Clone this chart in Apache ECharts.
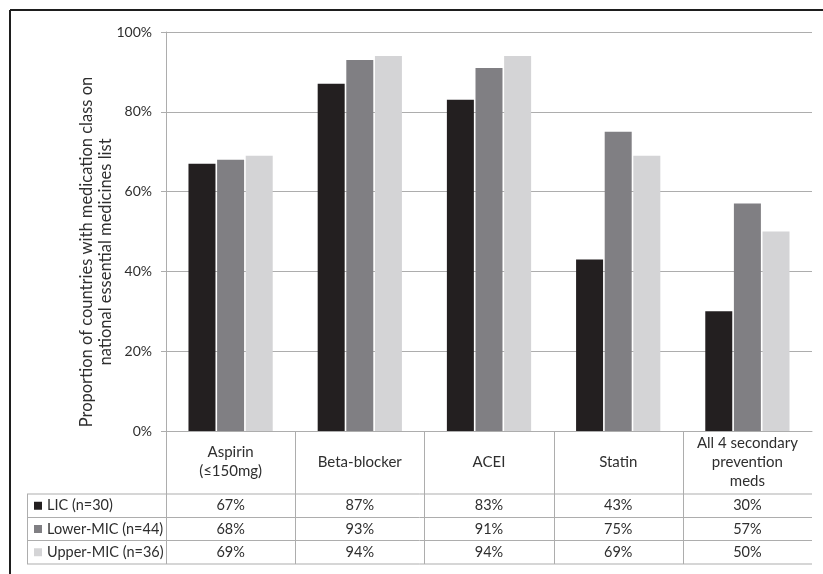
<!DOCTYPE html>
<html>
<head>
<meta charset="utf-8">
<script src="https://cdn.jsdelivr.net/npm/echarts@6/dist/echarts.min.js"></script>
<style>
html,body{margin:0;padding:0;background:#fff;}
#chart{width:823px;height:574px;}
</style>
</head>
<body>
<div id="chart"></div>
<script>
var categories = ['Aspirin\n(≤150mg)', 'Beta-blocker', 'ACEI', 'Statin', 'All 4 secondary\nprevention\nmeds'];
var seriesNames = ['LIC (n=30)', 'Lower-MIC (n=44)', 'Upper-MIC (n=36)'];
var licValues = [67, 87, 83, 43, 30];
var lowerMicValues = [68, 93, 91, 75, 57];
var upperMicValues = [69, 94, 94, 69, 50];
var yTicks = [0, 20, 40, 60, 80, 100];
var yTitle = 'Proportion of countries with medication class on\nnational essential medicines list';

var colors = ['#231f20', '#807f83', '#d4d4d6'];
var FONT = 'Lato';
var TEXT = '#2e2e2e';
var LINE = '#adadad';

var GL = 166, GR = 812, GT = 32, GB = 431;
var tableLeft = 27;
var rowLines = [494, 517.5, 540.5, 564];

var chart = echarts.init(document.getElementById('chart'), null, {renderer: 'canvas'});
var allSeries = [licValues, lowerMicValues, upperMicValues];

var option = {
  animation: false,
  backgroundColor: '#ffffff',
  grid: {left: GL, right: 823 - GR, top: GT, bottom: 574 - GB, containLabel: false},
  xAxis: {
    type: 'category',
    data: categories,
    axisLine: {show: true, lineStyle: {color: LINE, width: 1}},
    axisTick: {show: false},
    axisLabel: {
      fontFamily: FONT, fontSize: 15, color: TEXT, lineHeight: 19,
      margin: 31, verticalAlign: 'middle', align: 'center', interval: 0
    }
  },
  yAxis: {
    type: 'value',
    min: yTicks[0], max: yTicks[yTicks.length - 1], interval: 20,
    axisLine: {show: true, lineStyle: {color: LINE, width: 1}},
    axisTick: {show: true, length: 5, lineStyle: {color: LINE}},
    splitLine: {show: true, lineStyle: {color: LINE, width: 1}},
    axisLabel: {fontFamily: FONT, fontSize: 14, color: TEXT, margin: 14, formatter: '{value}%'}
  },
  series: allSeries.map(function (vals, i) {
    return {
      name: seriesNames[i], type: 'bar', data: vals,
      barWidth: 27, barGap: '6%',
      itemStyle: {color: colors[i]}
    };
  })
};
chart.setOption(option);

var g = [];
g.push({type: 'line', shape: {x1: 10, y1: 10, x2: 823, y2: 10}, style: {stroke: '#1e1e1e', lineWidth: 2}});
g.push({type: 'line', shape: {x1: 10, y1: 10, x2: 10, y2: 574}, style: {stroke: '#1e1e1e', lineWidth: 2}});
g.push({type: 'text', x: 96, y: 252, rotation: Math.PI / 2,
  style: {text: yTitle, fontFamily: FONT, fontSize: 16.5, fill: TEXT, align: 'center', verticalAlign: 'middle', lineHeight: 19}});
rowLines.forEach(function (y) {
  g.push({type: 'line', shape: {x1: tableLeft, y1: y, x2: GR, y2: y}, style: {stroke: LINE, lineWidth: 1}});
});
var colW = (GR - GL) / categories.length;
for (var c = 0; c < categories.length; c++) {
  var x = Math.round(GL + c * colW) + 0.5;
  g.push({type: 'line', shape: {x1: x, y1: GB, x2: x, y2: rowLines[rowLines.length - 1]}, style: {stroke: LINE, lineWidth: 1}});
}
g.push({type: 'line', shape: {x1: tableLeft + 0.5, y1: rowLines[0], x2: tableLeft + 0.5, y2: rowLines[rowLines.length - 1]}, style: {stroke: LINE, lineWidth: 1}});
allSeries.forEach(function (vals, r) {
  var cy = (rowLines[r] + rowLines[r + 1]) / 2;
  g.push({type: 'rect', shape: {x: 34, y: cy - 4, width: 8, height: 8}, style: {fill: colors[r]}});
  g.push({type: 'text', x: 47, y: cy, style: {text: seriesNames[r], fontFamily: FONT, fontSize: 14.5, fill: TEXT, align: 'left', verticalAlign: 'middle'}});
  vals.forEach(function (v, i) {
    var px = chart.convertToPixel({xAxisIndex: 0}, i);
    g.push({type: 'text', x: px, y: cy, style: {text: v + '%', fontFamily: FONT, fontSize: 14.5, fill: TEXT, align: 'center', verticalAlign: 'middle'}});
  });
});
chart.setOption({graphic: {elements: g}});
</script>
</body>
</html>
